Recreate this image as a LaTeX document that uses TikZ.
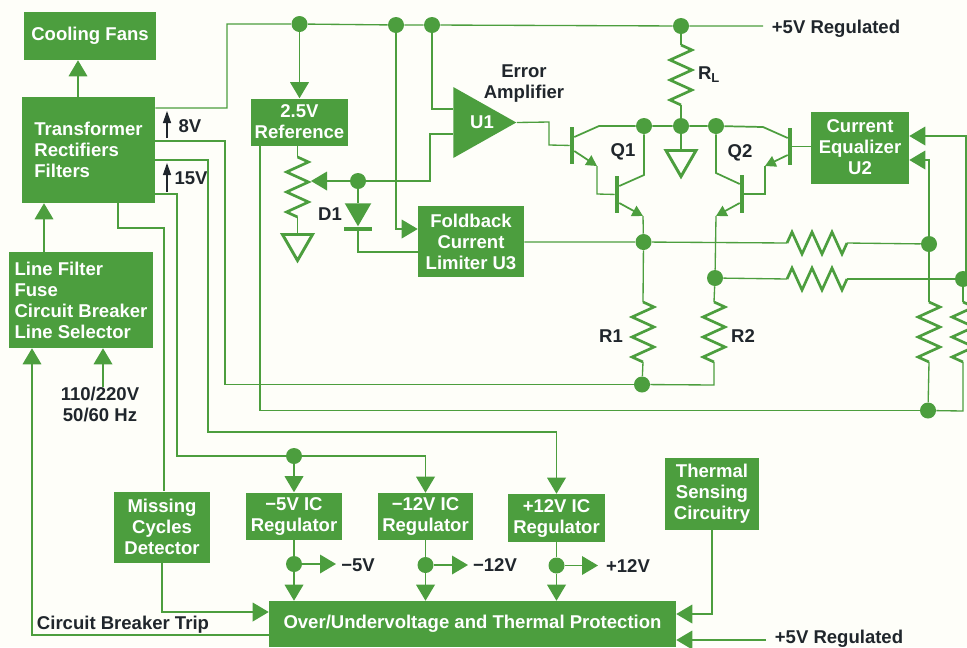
\documentclass[tikz,border=0pt]{standalone}
\usepackage{fontspec}
\setmainfont{Liberation Sans}
\usetikzlibrary{arrows.meta,shapes.geometric,decorations.pathmorphing}
\definecolor{ink}{RGB}{32,38,44}
\definecolor{hpgreen}{RGB}{76,158,62}
\definecolor{paper}{RGB}{254,254,249}
\begin{document}
\begin{tikzpicture}[x=.75pt,y=-.75pt,
sz/.style 2 args={minimum width=#1*.75pt,minimum height=#2*.75pt},
box/.style={fill=hpgreen,text=white,inner sep=0pt,align=center,font=\bfseries\fontsize{13.9}{15.75}\selectfont},
lbl/.style={text=ink,inner sep=0pt,align=center,font=\bfseries\fontsize{13.9}{15.75}\selectfont},
wire/.style={draw=hpgreen,line width=1pt},
arrow/.style={wire,-{Triangle[length=12pt,width=14pt]}},
etip/.style={draw=hpgreen,line width=1.3pt,-{Triangle[length=8pt,width=8.5pt]}},
vtag/.style={draw=ink,line width=1pt,-{Triangle[length=9pt,width=6pt]}},
dot/.style={circle,fill=hpgreen,inner sep=0pt,minimum size=12pt},
res/.style={draw=hpgreen,line width=2pt,decorate,decoration={zigzag,segment length=15pt,amplitude=8.25pt}},
gnd/.style={regular polygon,regular polygon sides=3,shape border rotate=180,draw=hpgreen,line width=2.2pt,inner sep=0pt,minimum size=26pt,anchor=north},
tbar/.style={fill=hpgreen,inner sep=0pt,minimum width=3pt,minimum height=28pt}]
\useasboundingbox (0,0) rectangle (967,647);
\fill[paper] (0,0) rectangle (967,647);
\clip (0,0) rectangle (967,647);
% blocks
\node[box,sz={132}{48}] (fans) at (90,36) {Cooling Fans};
\node[box,sz={133}{106},align=left] (trans) at (88.5,150) {Transformer\\Rectifiers\\Filters};
\node[box,sz={144}{96},align=left] (linef) at (81,300) {Line Filter\\Fuse\\Circuit Breaker\\Line Selector};
\node[box,sz={97}{47}] (ref) at (299.5,122) {2.5V\\Reference};
\node[box,sz={106}{71}] (fold) at (471,241.5) {Foldback\\Current\\Limiter U3};
\node[box,sz={98}{72}] (equal) at (860,147.5) {Current\\Equalizer\\U2};
\node[box,sz={96}{71}] (miss) at (162,527) {Missing\\Cycles\\Detector};
\node[box,sz={96}{47}] (m5) at (294,516) {−5V IC\\Regulator};
\node[box,sz={95}{47}] (m12) at (425.5,516.5) {−12V IC\\Regulator};
\node[box,sz={97}{48}] (p12) at (556.5,518) {+12V IC\\Regulator};
\node[box,sz={94}{72}] (therm) at (712,494) {Thermal\\Sensing\\Circuitry};
\node[box,sz={407}{46}] (prot) at (472.5,624) {Over/Undervoltage and Thermal Protection};
\node[box,isosceles triangle,isosceles triangle stretches,sz={71}{63},anchor=lower side] (u1) at (453,122.5) {};
\node[box,fill=none] (u1l) at (482,122) {U1};
% labels
\node[lbl] (top5) at (836,29) {+5V Regulated};
\node[lbl] (bot5) at (839,639) {+5V Regulated};
\node[lbl] (mains) at (100,404.5) {110/220V\\50/60 Hz};
\node[lbl] (trip) at (123,625) {Circuit Breaker Trip};
\node[lbl] (erramp) at (524,83.5) {Error\\Amplifier};
\node[lbl] (rll) at (709,75) {R\textsubscript{L}};
\node[lbl] (r1l) at (611,336) {R1};
\node[lbl] (r2l) at (743,336) {R2};
\node[lbl] (q1l) at (623,152) {Q1};
\node[lbl] (q2l) at (740,153) {Q2};
\node[lbl] (d1l) at (330,214) {D1};
\node[lbl] (v8) at (190,126) {8V};
\node[lbl] (v15) at (191,178) {15V};
\node[lbl] (vm5) at (358,565) {−5V};
\node[lbl] (vm12) at (495,565) {−12V};
\node[lbl] (vp12) at (628,566) {+12V};
% junctions
\node[dot] (j1) at (299.5,24) {};
\node[dot] (j2) at (396,25) {};
\node[dot] (j3) at (432,25) {};
\node[dot] (j4) at (681,26) {};
\node[dot] (jw) at (358,181) {};
\node[dot] (jq1) at (644,126) {};
\node[dot] (jc) at (681,126) {};
\node[dot] (jq2) at (716,126) {};
\node[dot] (j6) at (643.5,242) {};
\node[dot] (j7) at (929,244) {};
\node[dot] (j9) at (715,278) {};
\node[dot] (j10) at (963,279) {};
\node[dot] (j8) at (642,384.5) {};
\node[dot] (j11) at (928,410.5) {};
\node[dot] (j12) at (294,456) {};
\node[dot] (jm5) at (294,564) {};
\node[dot] (jm12) at (425.5,565) {};
\node[dot] (jp12) at (556.5,565.5) {};
% grounds, diode, transistor bars
\node[gnd] (gnd1) at (681,149) {};
\node[gnd] (gnd2) at (297.5,233) {};
\node[regular polygon,regular polygon sides=3,shape border rotate=180,fill=hpgreen,inner sep=0pt,minimum size=23pt,anchor=north] (d1) at (358,203) {};
\node[fill=hpgreen,inner sep=0pt,minimum width=21pt,minimum height=2.6pt] (d1bar) at (358,229) {};
\node[tbar] (q1a) at (572,145.5) {};
\node[tbar] (q1b) at (617,194.5) {};
\node[tbar] (q2a) at (790,146.5) {};
\node[tbar] (q2b) at (742,194) {};
% resistor ends
\coordinate (rl1) at (681,45); \coordinate (rl2) at (681,105);
\coordinate (pot1) at (297.5,157); \coordinate (pot2) at (297.5,217);
\coordinate (r1a) at (643,302); \coordinate (r1b) at (643,362);
\coordinate (r2a) at (714,302); \coordinate (r2b) at (714,362);
\coordinate (r3a) at (787,243); \coordinate (r3b) at (847,243);
\coordinate (r4a) at (787,279); \coordinate (r4b) at (847,279);
\coordinate (r5a) at (929,302); \coordinate (r5b) at (929,362);
\coordinate (r6a) at (963,302); \coordinate (r6b) at (963,362);
\foreach \a/\b in {rl1/rl2,pot1/pot2,r1a/r1b,r2a/r2b,r3a/r3b,r4a/r4b,r5a/r5b,r6a/r6b} \draw[res] (\a)--(\b);
% supply rail and reference
\draw[wire] (trans.east|-0,108)--(227,108)--(227,24)--(j1)--(j2)--(j3)--(j4)--(763,26);
\draw[arrow] (j1)--(ref);
\draw[arrow] (j2)--(396,229)--(fold.west|-0,229);
\draw[wire] (j3)--(432,109)--(u1.lower side|-0,109);
\draw[wire] (j4)--(rl1); \draw[wire] (rl2)--(jc);
\draw[wire] (ref.south-|297.5,0)--(pot1); \draw[wire] (pot2)--(gnd2.north);
\draw[arrow] (jw)--(311,181);
\draw[wire] (jw)--(430,181)--(430,134)--(u1.lower side|-0,134);
\draw[wire] (jw)--(d1.north);
\draw[wire] (d1bar)--(358,252)--(fold.west|-0,252);
% darlington pairs
\draw[wire] (u1.apex)--(549,122)--(549,145)--(q1a);
\draw[wire,line width=1.3pt] (q1a.east|-0,137)--(599,126)--(jq1)--(jc)--(jq2)--(763,127)--(q2a.west|-0,138);
\draw[etip] (q1a.east|-0,151)--(597,166);
\draw[wire] (597,166)--(597,194)--(q1b);
\draw[wire,line width=1.3pt] (q1b.east|-0,186)--(644,175)--(jq1);
\draw[etip] (q1b.east|-0,203)--(643,216);
\draw[wire] (643,216)--(j6);
\draw[wire] (jc)--(gnd1.north);
\draw[wire] (q2a)--(equal.west|-0,146.5);
\draw[etip] (q2a.west|-0,155)--(765,166);
\draw[wire] (765,166)--(765,194)--(q2b);
\draw[wire,line width=1.3pt] (q2b.west|-0,184)--(716,173)--(jq2);
\draw[etip] (q2b.west|-0,203)--(716,216);
\draw[wire] (716,216)--(j9);
% sense resistors
\draw[wire] (fold.east|-j6)--(j6)--(r3a); \draw[wire] (r3b)--(j7);
\draw[wire] (j9)--(r4a); \draw[wire] (r4b)--(j10);
\draw[wire] (j6)--(r1a); \draw[wire] (r1b)--(j8);
\draw[wire] (j9)--(r2a); \draw[wire] (r2b)--(714,385)--(j8);
\draw[wire] (j7)--(r5a); \draw[wire] (r5b)--(j11);
\draw[wire] (j10)--(r6a); \draw[wire] (r6b)--(963,411)--(j11);
\draw[arrow] (j7)--(929,160)--(equal.east|-0,160);
\draw[arrow] (j10)-|(966,136)--(equal.east|-0,136);
% rails from the transformer
\draw[wire] (trans.east|-0,141)--(225,141)--(225,384.5)--(j8);
\draw[wire] (ref.south-|260,0)--(260,410.5)--(j11);
\draw[arrow] (trans.east|-0,160)--(208,160)--(208,432)-|(p12.north);
\draw[wire] (trans.east|-0,194)--(177,194)--(177,456)--(j12);
\draw[arrow] (j12)-|(m12.north);
\draw[arrow] (j12)--(m5);
\draw[wire] (trans.south-|118,0)--(118,228)--(164,228)--(miss.north-|164,0);
\draw[arrow] (miss.south)--(162,612)--(prot.west|-0,612);
\draw[arrow] (prot.west|-0,635)--(32,635)--(linef.south-|32,0);
\draw[arrow] (mains.north-|103,0)--(linef.south-|103,0);
\draw[arrow] (linef.north-|44,0)--(trans.south-|44,0);
\draw[arrow] (trans.north-|78,0)--(fans.south-|78,0);
% regulators
\draw[wire] (m5)--(jm5); \draw[arrow] (jm5)--(prot.north-|jm5);
\draw[wire] (m12)--(jm12); \draw[arrow] (jm12)--(prot.north-|jm12);
\draw[wire] (p12)--(jp12); \draw[arrow] (jp12)--(prot.north-|jp12);
\draw[arrow] (jm5)--(336,564);
\draw[arrow] (jm12)--(468,565);
\draw[arrow] (jp12)--(598,565.5);
\draw[arrow] (therm.south)--(712,614)--(prot.east|-0,614);
\draw[arrow] (766,640)--(prot.east|-0,640);
% small voltage tags
\coordinate (v8a) at (167,138); \coordinate (v8b) at (167,111);
\coordinate (v15a) at (167,192); \coordinate (v15b) at (167,163);
\draw[vtag] (v8a)--(v8b);
\draw[vtag] (v15a)--(v15b);
\end{tikzpicture}
\end{document}
